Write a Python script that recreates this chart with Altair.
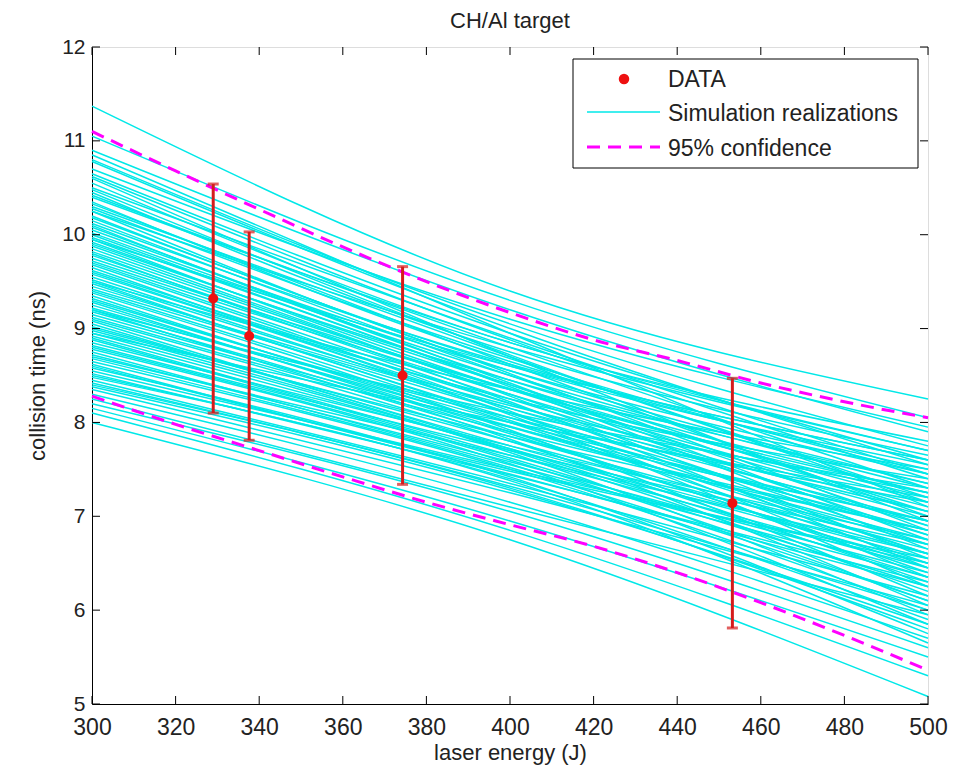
import altair as alt
import pandas as pd

# ---- data ----
chart_title = "CH/Al target"
sim_x = [300, 400, 500]
sim_at_300 = [11.37, 11.05, 10.90, 10.80, 10.70, 10.65, 10.55, 10.50, 10.45, 10.40,
              10.35, 10.30, 10.25, 10.20, 10.15, 10.10, 10.05, 10.00, 9.95, 9.90,
              9.85, 9.80, 9.75, 9.70, 9.65, 9.60, 9.55, 9.50, 9.45, 9.40,
              9.35, 9.30, 9.25, 9.20, 9.15, 9.10, 9.05, 9.00, 8.95, 8.90,
              8.85, 8.80, 8.75, 8.70, 8.65, 8.60, 8.55, 8.50, 8.45, 8.40,
              8.35, 8.30, 8.25, 8.20, 8.15, 8.10, 8.00, 10.60, 10.25, 9.95,
              9.50, 8.95, 10.85, 9.20,
              10.78, 10.62, 10.48, 10.42, 10.33, 10.28, 10.18, 10.12, 10.08, 10.02,
              9.97, 9.92, 9.88, 9.82, 9.78, 9.72, 9.68, 9.62, 9.58, 9.52,
              9.48, 9.42, 9.38, 9.32, 9.28, 9.22, 9.18, 9.12, 9.08, 9.02,
              8.98, 8.92, 8.88, 8.82, 8.78, 8.72, 8.68, 8.62, 8.58, 8.52,
              8.48, 8.42, 8.38]
sim_at_400 = [9.40, 9.30, 9.20, 9.05, 9.10, 8.95, 8.85, 8.90, 8.75, 8.80,
              8.65, 8.70, 8.55, 8.60, 8.50, 8.45, 8.55, 8.40, 8.35, 8.45,
              8.30, 8.25, 8.35, 8.20, 8.15, 8.25, 8.10, 8.05, 8.15, 8.00,
              7.95, 8.05, 7.90, 7.85, 7.95, 7.80, 7.75, 7.85, 7.70, 7.65,
              7.75, 7.60, 7.55, 7.65, 7.50, 7.45, 7.50, 7.40, 7.35, 7.30,
              7.25, 7.15, 7.10, 7.05, 6.95, 6.85, 6.75, 8.70, 8.80, 8.60,
              8.35, 8.00, 8.95, 8.10,
              9.00, 8.88, 8.72, 8.85, 8.62, 8.68, 8.52, 8.62, 8.42, 8.50,
              8.38, 8.40, 8.28, 8.36, 8.22, 8.30, 8.12, 8.20, 8.08, 8.18,
              8.02, 8.10, 7.92, 8.00, 7.88, 7.96, 7.82, 7.90, 7.72, 7.80,
              7.68, 7.72, 7.62, 7.70, 7.56, 7.58, 7.52, 7.48, 7.42, 7.44,
              7.38, 7.32, 7.28]
sim_at_500 = [8.25, 8.05, 7.90, 7.75, 7.95, 7.60, 7.80, 7.45, 7.65, 7.30,
              7.50, 7.15, 7.35, 7.55, 7.05, 7.25, 7.45, 6.90, 7.10, 7.35,
              6.80, 7.00, 7.20, 6.70, 6.95, 7.40, 6.60, 6.85, 7.05, 6.50,
              6.75, 7.15, 6.40, 6.65, 6.95, 6.30, 6.55, 6.85, 6.20, 6.45,
              6.75, 6.10, 6.35, 6.60, 6.00, 6.25, 6.50, 5.90, 6.15, 5.80,
              6.05, 5.70, 5.95, 5.60, 5.50, 5.30, 5.08, 6.95, 7.70, 7.60,
              7.50, 7.20, 7.10, 7.30,
              7.55, 7.40, 7.20, 7.70, 7.00, 7.45, 6.85, 7.60, 6.75, 7.30,
              6.65, 7.15, 6.55, 7.25, 6.45, 7.05, 6.35, 6.90, 6.25, 7.25,
              6.60, 6.80, 6.15, 6.95, 6.45, 6.70, 6.05, 6.85, 6.35, 6.60,
              5.95, 6.50, 6.25, 6.70, 5.85, 6.40, 6.10, 6.55, 5.75, 6.30,
              5.65, 6.00, 5.85]

conf_x = [300, 320, 340, 360, 380, 400, 420, 440, 460, 480, 500]
conf_upper = [11.10, 10.68, 10.27, 9.87, 9.50, 9.17, 8.88, 8.66, 8.42, 8.22, 8.05]
conf_lower = [8.28, 7.98, 7.70, 7.42, 7.15, 6.91, 6.68, 6.40, 6.08, 5.73, 5.36]

data_x = [329.0, 337.6, 374.3, 453.2]
data_y = [9.32, 8.92, 8.50, 7.14]
data_err = [1.22, 1.11, 1.16, 1.33]

x_ticks = [300, 320, 340, 360, 380, 400, 420, 440, 460, 480, 500]
y_ticks = [5, 6, 7, 8, 9, 10, 11, 12]

legend_labels = ["DATA", "Simulation realizations", "95% confidence"]

# ---- tables ----
sim_rows = []
for i in range(len(sim_at_300)):
    for xv, yv in zip(sim_x, [sim_at_300[i], sim_at_400[i], sim_at_500[i]]):
        sim_rows.append({"run": i, "energy": xv, "time": yv})
sim_df = pd.DataFrame(sim_rows)

conf_rows = []
for xv, yv in zip(conf_x, conf_upper):
    conf_rows.append({"bound": "upper", "energy": xv, "time": yv})
for xv, yv in zip(conf_x, conf_lower):
    conf_rows.append({"bound": "lower", "energy": xv, "time": yv})
conf_df = pd.DataFrame(conf_rows)

data_df = pd.DataFrame({
    "energy": data_x,
    "time": data_y,
    "lo": [y - e for y, e in zip(data_y, data_err)],
    "hi": [y + e for y, e in zip(data_y, data_err)],
})
xt_df = pd.DataFrame({"v": x_ticks})
yt_df = pd.DataFrame({"v": y_ticks})

FONT = "Liberation Sans"
W, H = 836, 657
CYAN = "#00E8E8"
MAG = "#FF00FF"
RED_BAR = "#D41C1C"
RED_PT = "#EE1111"
TXT = "#222222"

xscale = alt.Scale(domain=[300, 500], nice=False, zero=False)
yscale = alt.Scale(domain=[5, 12], nice=False, zero=False)

xaxis = alt.Axis(values=x_ticks, format="d", title="laser energy (J)", grid=False, ticks=False,
                 tickSize=0, labelPadding=12, titlePadding=3, labelFontSize=23,
                 titleFontSize=22, labelFont=FONT, titleFont=FONT,
                 titleFontWeight="normal", labelColor=TXT, titleColor=TXT,
                 domainColor="black", labelFlush=False)
yaxis = alt.Axis(values=y_ticks, format="d", title="collision time (ns)", grid=False, ticks=False,
                 tickSize=0, labelPadding=7, titlePadding=12, labelFontSize=21,
                 titleFontSize=22, labelFont=FONT, titleFont=FONT,
                 titleFontWeight="normal", labelColor=TXT, titleColor=TXT,
                 domainColor="black", labelFlush=False)

sims = alt.Chart(sim_df).mark_line(color=CYAN, strokeWidth=1.5, interpolate="monotone").encode(
    x=alt.X("energy:Q", scale=xscale, axis=xaxis),
    y=alt.Y("time:Q", scale=yscale, axis=yaxis),
    detail="run:N",
)

conf = alt.Chart(conf_df).mark_line(color=MAG, strokeWidth=3, strokeDash=[13, 8],
                                    interpolate="monotone").encode(
    x=alt.X("energy:Q", scale=xscale),
    y=alt.Y("time:Q", scale=yscale),
    detail="bound:N",
)

bars = alt.Chart(data_df).mark_rule(color=RED_BAR, strokeWidth=3).encode(
    x=alt.X("energy:Q", scale=xscale),
    y=alt.Y("lo:Q", scale=yscale),
    y2="hi:Q",
)
cap_lo = alt.Chart(data_df).mark_tick(color=RED_BAR, orient="horizontal", size=11, thickness=3).encode(
    x=alt.X("energy:Q", scale=xscale),
    y=alt.Y("lo:Q", scale=yscale),
)
cap_hi = alt.Chart(data_df).mark_tick(color=RED_BAR, orient="horizontal", size=11, thickness=3).encode(
    x=alt.X("energy:Q", scale=xscale),
    y=alt.Y("hi:Q", scale=yscale),
)
pts = alt.Chart(data_df).mark_circle(color=RED_PT, size=100, opacity=1).encode(
    x=alt.X("energy:Q", scale=xscale),
    y=alt.Y("time:Q", scale=yscale),
)

# inward ticks (MATLAB style) on all four sides
TL = 8
xt_bottom = alt.Chart(xt_df).mark_rule(color="black", strokeWidth=1).encode(
    x=alt.X("v:Q", scale=xscale), y=alt.value(H), y2=alt.value(H - TL))
xt_top = alt.Chart(xt_df).mark_rule(color="black", strokeWidth=1).encode(
    x=alt.X("v:Q", scale=xscale), y=alt.value(0), y2=alt.value(TL))
yt_left = alt.Chart(yt_df).mark_rule(color="black", strokeWidth=1).encode(
    y=alt.Y("v:Q", scale=yscale), x=alt.value(0), x2=alt.value(TL))
yt_right = alt.Chart(yt_df).mark_rule(color="black", strokeWidth=1).encode(
    y=alt.Y("v:Q", scale=yscale), x=alt.value(W - TL), x2=alt.value(W))

one = alt.Data(values=[{"k": 1}])

# chart title as a text mark above the plot
title_mark = alt.Chart(one).mark_text(align="center", baseline="alphabetic", font=FONT,
                                      fontSize=22, color=TXT, text=chart_title).encode(
    x=alt.value(W / 2), y=alt.value(-19))

# legend drawn by hand
leg_box = alt.Chart(one).mark_rect(fill="white", stroke="black", strokeWidth=1).encode(
    x=alt.value(481), x2=alt.value(826), y=alt.value(12), y2=alt.value(121))
leg_dot = alt.Chart(one).mark_circle(color=RED_PT, size=110, opacity=1).encode(
    x=alt.value(532), y=alt.value(32))
leg_cyan = alt.Chart(one).mark_rule(color=CYAN, strokeWidth=1.5).encode(
    x=alt.value(495), x2=alt.value(568), y=alt.value(65))
leg_mag = alt.Chart(one).mark_rule(color=MAG, strokeWidth=3, strokeDash=[13, 8]).encode(
    x=alt.value(495), x2=alt.value(568), y=alt.value(100))
leg_t1 = alt.Chart(one).mark_text(align="left", baseline="middle", font=FONT, fontSize=23,
                                  color=TXT, text=legend_labels[0]).encode(
    x=alt.value(576), y=alt.value(33))
leg_t2 = alt.Chart(one).mark_text(align="left", baseline="middle", font=FONT, fontSize=23,
                                  color=TXT, text=legend_labels[1]).encode(
    x=alt.value(576), y=alt.value(67))
leg_t3 = alt.Chart(one).mark_text(align="left", baseline="middle", font=FONT, fontSize=23,
                                  color=TXT, text=legend_labels[2]).encode(
    x=alt.value(576), y=alt.value(102))

chart = alt.layer(
    sims, conf, bars, cap_lo, cap_hi, pts,
    xt_bottom, xt_top, yt_left, yt_right, title_mark,
    leg_box, leg_dot, leg_cyan, leg_mag, leg_t1, leg_t2, leg_t3,
).properties(
    width=W, height=H,
    autosize=alt.AutoSizeParams(type="none"),
    padding={"left": 92, "top": 47, "right": 36, "bottom": 67},
).configure_view(stroke="black", strokeWidth=1).configure(background="white")

chart.save("out.html", embed_options={"renderer": "svg", "actions": False})
